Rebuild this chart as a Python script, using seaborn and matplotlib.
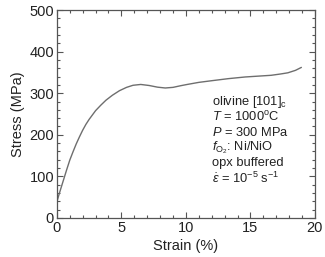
import matplotlib
matplotlib.use("Agg")
import matplotlib.pyplot as plt
import seaborn as sns
import pandas as pd
from matplotlib.ticker import MultipleLocator

# stress-strain curve
strain = [0.0, 0.25, 0.5, 0.75, 1.0, 1.25, 1.5, 1.75, 2.0, 2.25, 2.5, 3.0,
          3.4, 3.8, 4.3, 4.85, 5.4, 5.9, 6.5, 7.15, 7.8, 8.4, 9.0, 9.6,
          10.1, 11.0, 12.0, 13.3, 14.6, 15.6, 16.6, 17.3, 17.9, 18.5, 18.95]
stress = [39, 65, 90, 115, 139, 159, 178, 195, 211, 225, 237, 258,
          271, 283, 295, 306, 314, 319, 321, 318.5, 314.5, 312.5, 314, 318,
          321, 326, 330, 335, 339, 341, 343, 346, 349, 355, 362]

info_lines = [
    "olivine [101]$_\\mathregular{c}$",
    "$T$ = 1000$^\\mathregular{o}$C",
    "$P$ = 300 MPa",
    "$f_{\\mathregular{O_2}}$: Ni/NiO",
    "opx buffered",
    "$\\dot{\\varepsilon}$ = 10$^{\\mathregular{-5}}$ s$^{\\mathregular{-1}}$",
]

sns.set_style("ticks")
plt.rcParams['font.family'] = ['Liberation Sans', 'DejaVu Sans']
plt.rcParams['mathtext.fontset'] = 'custom'
plt.rcParams['mathtext.rm'] = 'Liberation Sans'
plt.rcParams['mathtext.it'] = 'Liberation Sans:italic'
plt.rcParams['mathtext.bf'] = 'Liberation Sans:bold'

df = pd.DataFrame({"Strain": strain, "Stress": stress})

fig = plt.figure(figsize=(3.25, 2.57), dpi=100)
ax = fig.add_axes([0.175, 0.152, 0.794, 0.809])
sns.lineplot(data=df, x="Strain", y="Stress", ax=ax, color="#6e6e6e", linewidth=1.0)

ax.set_xlim(0, 20)
ax.set_ylim(0, 500)
ax.xaxis.set_major_locator(MultipleLocator(5))
ax.xaxis.set_minor_locator(MultipleLocator(1))
ax.yaxis.set_major_locator(MultipleLocator(100))
ax.yaxis.set_minor_locator(MultipleLocator(20))
ax.tick_params(which="both", direction="in", top=True, right=True, color="#555555",
               width=0.8, labelsize=10.5, pad=2, labelcolor="#222222")
ax.tick_params(which="major", length=4)
ax.tick_params(which="minor", length=2.5)
for s in ax.spines.values():
    s.set_color("#555555")
    s.set_linewidth(0.9)

ax.set_xlabel("Strain (%)", fontsize=10.5, color="#222222", labelpad=3)
ax.set_ylabel("Stress (MPa)", fontsize=10.5, color="#222222", labelpad=3)

for i, line in enumerate(info_lines):
    ax.text(12.0, 279 - i * 36.6, line, fontsize=9.3, color="#222222", va="center", ha="left")

fig.savefig("out.png", dpi=100)
